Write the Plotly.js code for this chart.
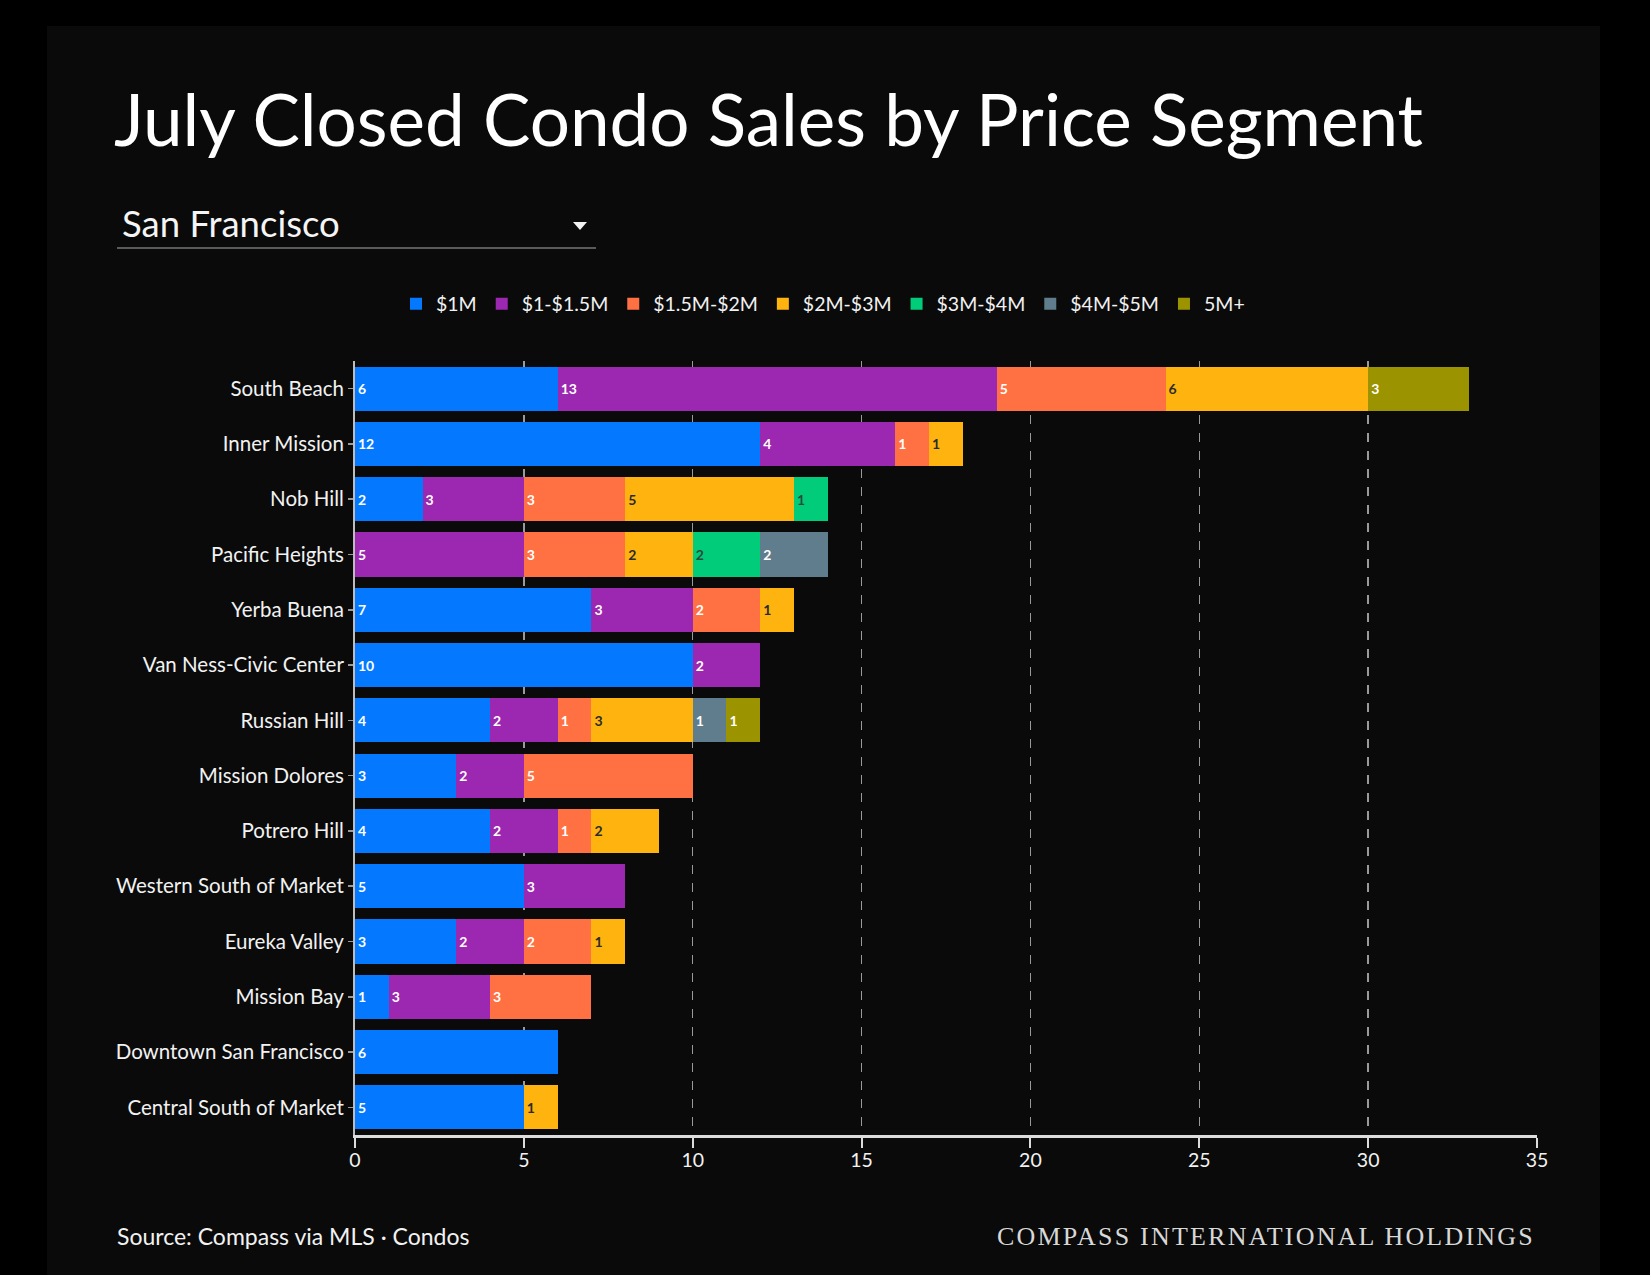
<!DOCTYPE html>
<html>
<head>
<meta charset="utf-8">
<script src="https://cdn.plot.ly/plotly-3.0.1.min.js"></script>
<style>
html,body{margin:0;padding:0;background:#000;}
#chart{width:1650px;height:1275px;}
</style>
</head>
<body>
<div id="chart"></div>
<script>
// ---- data ----
const neighborhoods = [
  "South Beach","Inner Mission","Nob Hill","Pacific Heights","Yerba Buena",
  "Van Ness-Civic Center","Russian Hill","Mission Dolores","Potrero Hill",
  "Western South of Market","Eureka Valley","Mission Bay",
  "Downtown San Francisco","Central South of Market"
];
const segmentNames = ["$1M","$1-$1.5M","$1.5M-$2M","$2M-$3M","$3M-$4M","$4M-$5M","5M+"];
const under1M   = [6,12,2,0,7,10,4,3,4,5,3,1,6,5];
const m1to15    = [13,4,3,5,3,2,2,2,2,3,2,3,0,0];
const m15to2    = [5,1,3,3,2,0,1,5,1,0,2,3,0,0];
const m2to3     = [6,1,5,2,1,0,3,0,2,0,1,0,0,1];
const m3to4     = [0,0,1,2,0,0,0,0,0,0,0,0,0,0];
const m4to5     = [0,0,0,2,0,0,1,0,0,0,0,0,0,0];
const m5plus    = [3,0,0,0,0,0,1,0,0,0,0,0,0,0];
const xTicks    = [0,5,10,15,20,25,30,35];

const seriesValues = [under1M,m1to15,m15to2,m2to3,m3to4,m4to5,m5plus];
const colors     = ["#0479FF","#9C27B0","#FF7043","#FFB30F","#00CC7A","#5F7D8C","#9C9300"];
const textColors = ["#ffffff","#ffffff","#ffffff","#2b2b2b","#2b4a3a","#ffffff","#ffffff"];

const FONT = "Lato, 'Open Sans', sans-serif";

const traces = seriesValues.map((vals,i)=>({
  type:"bar",
  orientation:"h",
  name:segmentNames[i],
  y:neighborhoods,
  x:vals.map(v=> v===0 ? null : v),
  text:vals.map(v=> v===0 ? "" : String(v)),
  textposition:"inside",
  insidetextanchor:"start",
  textangle:0,
  constraintext:"none",
  textfont:{family:FONT,size:14,color:textColors[i],weight:700},
  marker:{color:colors[i],line:{width:0}},
  hoverinfo:"x+y+name"
}));

// plot area in pixels
const L=355, R=1537, T=361, B=1135;
const px = p => (p-L)/(R-L);
const py = p => (B-p)/(B-T);

const layout = {
  width:1650, height:1275,
  paper_bgcolor:"#000", plot_bgcolor:"rgba(0,0,0,0)",
  margin:{l:L, r:1650-R, t:T, b:1275-B, pad:0},
  barmode:"stack",
  bargap:0.2,
  font:{family:FONT,color:"#f2f2f2"},
  title:{
    text:"July Closed Condo Sales by Price Segment",
    font:{family:FONT,size:71,color:"#ffffff"},
    xref:"container", x:114/1650, xanchor:"left",
    yref:"container", y:1-121/1275, yanchor:"middle"
  },
  showlegend:true,
  legend:{
    orientation:"h", traceorder:"normal",
    x:px(823), xanchor:"center", y:py(304), yanchor:"middle",
    font:{family:FONT,size:19.5,color:"#f2f2f2"},
    bgcolor:"rgba(0,0,0,0)", itemwidth:30, tracegroupgap:0
  },
  xaxis:{
    range:[0,35], tickvals:xTicks, ticktext:xTicks.map(String),
    showgrid:true, gridcolor:"#9a9a9a", griddash:"dash", gridwidth:1.5,
    zeroline:false,
    showline:true, linecolor:"#dcdcdc", linewidth:3,
    ticks:"outside", ticklen:10, tickwidth:2, tickcolor:"#dcdcdc",
    ticklabelstandoff:-4,
    tickfont:{family:FONT,size:19.5,color:"#f2f2f2"},
    fixedrange:true
  },
  yaxis:{
    type:"category", categoryorder:"array", categoryarray:neighborhoods,
    autorange:"reversed",
    showgrid:false, zeroline:false,
    showline:true, linecolor:"#bdbdbd", linewidth:2,
    ticks:"outside", ticklen:5, tickwidth:1.5, tickcolor:"#9a9a9a",
    tickfont:{family:FONT,size:20.5,color:"#f2f2f2"},
    fixedrange:true
  },
  shapes:[
    {type:"rect", xref:"paper", yref:"paper", x0:px(47), x1:px(1600), y0:py(26), y1:py(1275),
     fillcolor:"#0a0a0a", line:{width:0}, layer:"below"},
    {type:"line", xref:"paper", yref:"paper", x0:px(117), x1:px(596), y0:py(248), y1:py(248),
     line:{color:"#5a5a5a", width:2}},
    {type:"path", xref:"paper", yref:"paper",
     path:`M ${px(573)} ${py(222)} L ${px(587)} ${py(222)} L ${px(580)} ${py(230)} Z`,
     fillcolor:"#f2f2f2", line:{width:0}}
  ],
  annotations:[
    {text:"San Francisco", xref:"paper", yref:"paper", x:px(120), y:py(223),
     xanchor:"left", yanchor:"middle", showarrow:false,
     font:{family:FONT,size:36.5,color:"#f5f5f5"}},
    {text:"Source: Compass via MLS · Condos", xref:"paper", yref:"paper", x:px(115), y:py(1236),
     xanchor:"left", yanchor:"middle", showarrow:false,
     font:{family:FONT,size:23,color:"#f2f2f2"}},
    {text:"<span style=\"letter-spacing:2.2px\">COMPASS INTERNATIONAL HOLDINGS</span>", xref:"paper", yref:"paper", x:px(1537), y:py(1236),
     xanchor:"right", yanchor:"middle", showarrow:false,
     font:{family:"'Liberation Serif', 'DejaVu Serif', serif",size:26,color:"#d8d8d8"}}
  ]
};

Plotly.newPlot("chart", traces, layout, {displayModeBar:false, staticPlot:true});
</script>
</body>
</html>
